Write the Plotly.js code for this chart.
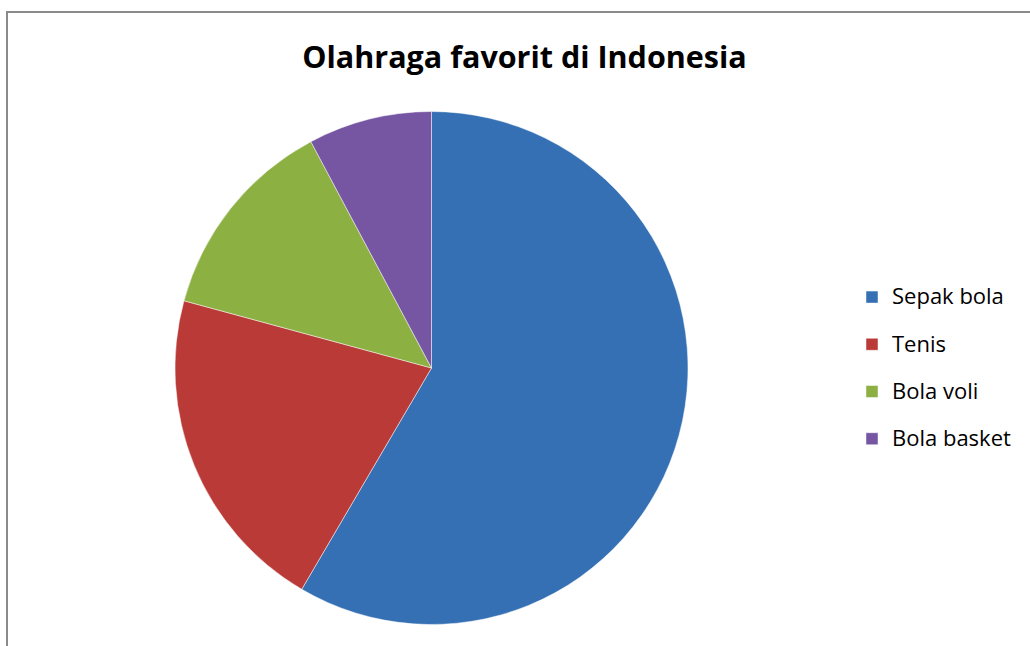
<!DOCTYPE html>
<html>
<head>
<meta charset="utf-8">
<script src="https://cdn.plot.ly/plotly-3.0.1.min.js"></script>
<style>html,body{margin:0;padding:0;background:#fff;}#chart{width:1030px;height:646px;}</style>
</head>
<body>
<div id="chart"></div>
<script>
var labels = ["Sepak bola", "Tenis", "Bola voli", "Bola basket"];
var values = [45, 16, 10, 6];
var colors = ["#3670B4", "#B93A37", "#8DB043", "#7656A2"];
var chartTitle = "Olahraga favorit di Indonesia";

var legendLabels = labels.map(function (t) {
  return '<span style="font-size:22px;baseline-shift:6px">' + t + '</span>';
});

var trace = {
  type: "pie",
  labels: legendLabels,
  values: values,
  sort: false,
  direction: "clockwise",
  rotation: 0,
  textinfo: "none",
  hoverinfo: "percent",
  marker: { colors: colors, line: { color: "rgba(255,255,255,0.6)", width: 0.8 } },
  domain: { x: [175 / 1030, 688 / 1030], y: [21.5 / 646, 534.5 / 646] }
};

var layout = {
  width: 1030,
  height: 646,
  margin: { l: 0, r: 0, t: 0, b: 0 },
  paper_bgcolor: "#ffffff",
  font: { family: "Open Sans, sans-serif", color: "#000" },
  title: {
    text: "<b>" + chartTitle + "</b>",
    font: { family: "Open Sans, sans-serif", size: 30.5, color: "#000" },
    x: 524.5 / 1030, xanchor: "center",
    y: (646 - 57) / 646, yanchor: "middle"
  },
  showlegend: true,
  legend: {
    x: 852 / 1030, xanchor: "left",
    y: (646 - 368) / 646, yanchor: "middle",
    font: { family: "Open Sans, sans-serif", size: 34, color: "#000" },
    bgcolor: "rgba(0,0,0,0)"
  },
  shapes: [{
    type: "rect", xref: "paper", yref: "paper",
    x0: 7 / 1030, x1: 1.02, y0: -0.02, y1: (646 - 12) / 646,
    line: { color: "#8a8a8a", width: 2 }, fillcolor: "rgba(0,0,0,0)"
  }]
};

Plotly.newPlot("chart", [trace], layout, { displayModeBar: false, staticPlot: true });
</script>
</body>
</html>
